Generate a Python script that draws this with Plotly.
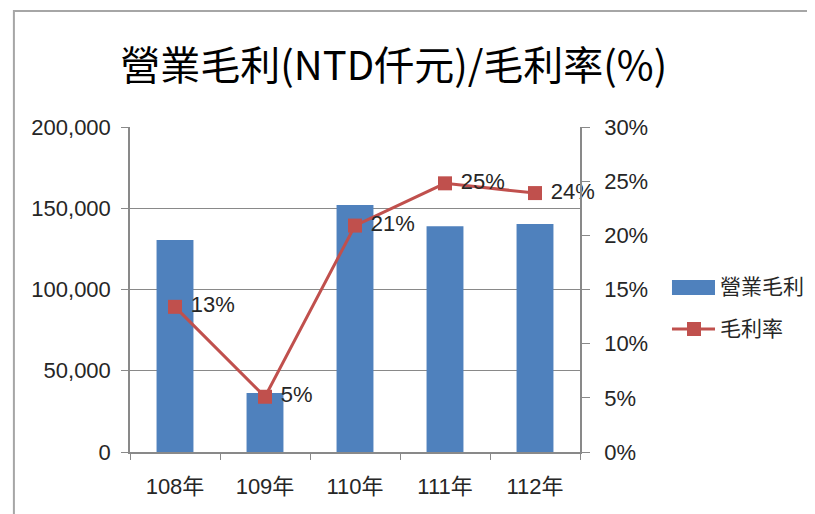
import plotly.graph_objects as go

years = ["108年", "109年", "110年", "111年", "112年"]
gross_profit = [130500, 36300, 152000, 139000, 140300]
margin_rate = [0.134, 0.051, 0.209, 0.248, 0.239]
margin_labels = ["13%", "5%", "21%", "25%", "24%"]

BAR_BLUE = "#4F81BD"
LINE_RED = "#C0504D"
GRID = "#898989"
TEXT = "#262626"
FONT = "Liberation Sans, Noto Sans CJK TC, sans-serif"

fig = go.Figure()
fig.add_trace(
    go.Bar(
        x=years,
        y=gross_profit,
        name="營業毛利",
        marker=dict(color=BAR_BLUE, line=dict(width=0)),
        showlegend=False,
    )
)
fig.add_trace(
    go.Scatter(
        x=years,
        y=margin_rate,
        name="毛利率",
        yaxis="y2",
        mode="lines+markers+text",
        line=dict(color=LINE_RED, width=3),
        marker=dict(symbol="square", size=14, color=LINE_RED),
        text=[" " + s for s in margin_labels],
        textposition="middle right",
        textfont=dict(size=22, color=TEXT, family=FONT),
        cliponaxis=False,
        showlegend=False,
    )
)

# hand-drawn legend (Excel style: wide bar swatch, line with square marker)
legend_shapes = [
    dict(type="rect", xref="paper", yref="paper",
         x0=1.2044, x1=1.30, y0=0.483, y1=0.529,
         fillcolor=BAR_BLUE, line=dict(width=0)),
    dict(type="line", xref="paper", yref="paper",
         x0=1.2044, x1=1.30, y0=0.3785, y1=0.3785,
         line=dict(color=LINE_RED, width=3)),
    dict(type="rect", xref="paper", yref="paper",
         x0=1.2378, x1=1.2689, y0=0.357, y1=0.40,
         fillcolor=LINE_RED, line=dict(width=0)),
]
legend_text = [
    dict(text="營業毛利", xref="paper", yref="paper", x=1.3067, y=0.5077,
         xanchor="left", yanchor="middle", showarrow=False,
         font=dict(size=21, color=TEXT)),
    dict(text="毛利率", xref="paper", yref="paper", x=1.3067, y=0.3785,
         xanchor="left", yanchor="middle", showarrow=False,
         font=dict(size=21, color=TEXT)),
]

# chart frame: only top and left edges are visible in the screenshot
border = dict(
    type="rect", xref="paper", yref="paper",
    x0=-0.258, x1=1.7, y0=-0.25, y1=1.357,
    line=dict(color="#A6A6A6", width=2), layer="below",
)

fig.update_layout(
    width=807,
    height=506,
    margin=dict(l=122, r=235, t=119, b=62),
    paper_bgcolor="white",
    plot_bgcolor="white",
    font=dict(family=FONT, size=22, color=TEXT),
    bargap=0.59,
    title=dict(
        text="營業毛利(NTD仟元)/毛利率(%)",
        font=dict(size=40, color="black", family="Noto Sans CJK TC, sans-serif"),
        x=0.478,
        xanchor="center",
        y=0.885,
        yanchor="middle",
    ),
    xaxis=dict(
        type="category",
        showline=True,
        linecolor=GRID,
        linewidth=1.5,
        ticks="outside",
        tickson="boundaries",
        ticklen=6,
        tickcolor=GRID,
        showgrid=False,
        tickfont=dict(size=22),
        ticklabelstandoff=14,
    ),
    yaxis=dict(
        range=[0, 200000],
        dtick=50000,
        tickformat=",",
        showline=True,
        linecolor=GRID,
        linewidth=1.5,
        ticks="outside",
        ticklen=7,
        tickcolor=GRID,
        showgrid=True,
        gridcolor=GRID,
        gridwidth=1.2,
        zeroline=False,
        tickfont=dict(size=22),
        ticklabelstandoff=6,
    ),
    yaxis2=dict(
        range=[0, 0.3],
        dtick=0.05,
        tickformat=".0%",
        overlaying="y",
        side="right",
        showline=True,
        linecolor=GRID,
        linewidth=1.5,
        ticks="outside",
        ticklen=8,
        tickcolor=GRID,
        showgrid=False,
        zeroline=False,
        tickfont=dict(size=22),
        ticklabelstandoff=10,
    ),
    shapes=[border] + legend_shapes,
    annotations=legend_text,
)

fig.write_html("out.html")
